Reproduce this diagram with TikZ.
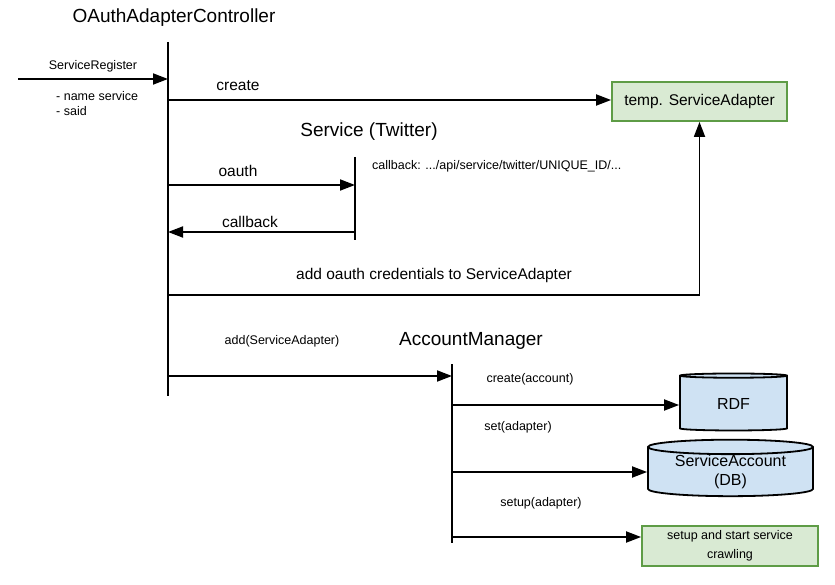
\documentclass[tikz,border=0pt]{standalone}
\usepackage{fontspec}
\setmainfont{Liberation Sans}
\usepackage{xcolor}
\usetikzlibrary{arrows.meta, positioning, shapes.geometric}
\definecolor{boxgreen}{HTML}{D9EAD3}
\definecolor{edgegreen}{HTML}{5E9C46}
\definecolor{storeblue}{HTML}{CFE2F3}

\begin{document}
\begin{tikzpicture}[x=1pt, y=-1pt,
  lanetitle/.style={font=\fontsize{19}{22}\selectfont, inner sep=0pt},
  msglabel/.style={font=\fontsize{15.5}{19}\selectfont, inner sep=0pt},
  smalllabel/.style={font=\fontsize{12.5}{15}\selectfont, inner sep=0pt},
  lifeline/.style={line width=1.8pt},
  msg/.style={line width=1.8pt, -{Triangle[length=15pt, width=11pt]}},
  greenbox/.style={draw=edgegreen, fill=boxgreen, line width=1.8pt, inner sep=0pt, align=center},
  store/.style={cylinder, shape border rotate=90, draw, line width=1.8pt, fill=storeblue,
    aspect=0.13, inner sep=0pt, align=center, font=\fontsize{16}{19}\selectfont}
]
  \useasboundingbox (0,0) rectangle (835,585);

  % Lifelines
  \node[lanetitle] (ctrl) at (174,18) {OAuthAdapterController};
  \node[lanetitle] (twitter) at (369,132) {Service (Twitter)};
  \node[lanetitle] (accmgr) at (471,341) {AccountManager};
  \coordinate (ctrltop) at (168,42);
  \coordinate (ctrlbot) at (168,396);
  \coordinate (twtop) at (355,157);
  \coordinate (twbot) at (355,240);
  \coordinate (acctop) at (452,364);
  \coordinate (accbot) at (452,543);
  \draw[lifeline] (ctrltop) -- (ctrlbot);
  \draw[lifeline] (twtop) -- (twbot);
  \draw[lifeline] (acctop) -- (accbot);

  % Targets
  \node[greenbox, minimum width=175pt, minimum height=39pt, font=\fontsize{15.5}{19}\selectfont]
    (adapter) at (699.5,101.5) {temp. ServiceAdapter};
  \node[store, minimum width=107pt, minimum height=57pt] (rdf) at (733.5,403.5) {RDF};
  \node[store, minimum width=165pt, minimum height=50pt] (account) at (730.5,472) {ServiceAccount\\(DB)};
  \node[greenbox, minimum width=176pt, minimum height=40pt, font=\fontsize{12.5}{19}\selectfont]
    (crawl) at (730,546) {setup and start service\\crawling};

  % Messages
  \coordinate (src) at (18,79);
  \draw[msg] (src) -- (ctrltop |- src);
  \node[smalllabel] (register) at (93,66) {ServiceRegister};
  \node[smalllabel, align=left, anchor=west] (params) at (56,103.5) {- name service\\- said};

  \coordinate (m1) at (168,100);
  \draw[msg] (m1) -- (adapter.west |- m1);
  \node[msglabel] (lcreate) at (238,86) {create};

  \node[smalllabel, anchor=west] (url) at (372,166) {callback: .../api/service/twitter/UNIQUE\_ID/...};
  \coordinate (m2) at (168,185);
  \draw[msg] (m2) -- (twtop |- m2);
  \node[msglabel] (loauth) at (238,171) {oauth};
  \coordinate (m3) at (355,232);
  \draw[msg] (m3) -- (ctrltop |- m3);
  \node[msglabel] (lcallback) at (250,222) {callback};

  \coordinate (m4) at (168,295);
  \draw[msg] (m4) -- (adapter.south |- m4) -- (adapter.south);
  \node[msglabel] (lcreds) at (434,275) {add oauth credentials to ServiceAdapter};

  \coordinate (m5) at (168,376);
  \draw[msg] (m5) -- (acctop |- m5);
  \node[smalllabel] (ladd) at (282,341) {add(ServiceAdapter)};

  \coordinate (m6) at (452,405);
  \draw[msg] (m6) -- (rdf.west |- m6);
  \node[smalllabel] (lcreate2) at (530,379) {create(account)};
  \coordinate (m7) at (452,472);
  \draw[msg] (m7) -- (account);
  \node[smalllabel] (lset) at (518,427) {set(adapter)};
  \coordinate (m8) at (452,537);
  \draw[msg] (m8) -- (crawl.west |- m8);
  \node[smalllabel] (lsetup) at (541,503) {setup(adapter)};
\end{tikzpicture}
\end{document}
